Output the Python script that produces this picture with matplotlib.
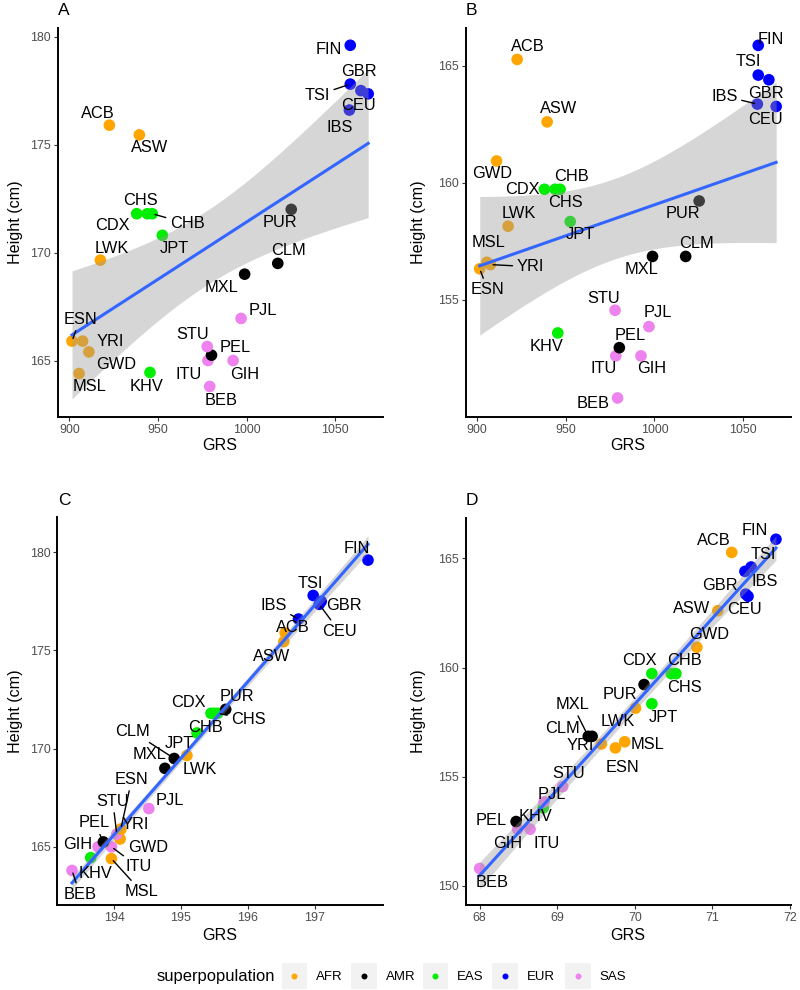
import numpy as np
import matplotlib
matplotlib.use("Agg")
from matplotlib import pyplot as plt
from matplotlib.patches import Rectangle
from matplotlib.lines import Line2D

plt.rcParams['font.family'] = ['Liberation Sans', 'DejaVu Sans']

pops = ['ACB', 'ASW', 'BEB', 'CDX', 'CEU', 'CHB', 'CHS', 'CLM', 'ESN', 'FIN', 'GBR', 'GIH', 'GWD',
        'IBS', 'ITU', 'JPT', 'KHV', 'LWK', 'MSL', 'MXL', 'PEL', 'PJL', 'PUR', 'STU', 'TSI', 'YRI']
superpop = ['AFR', 'AFR', 'SAS', 'EAS', 'EUR', 'EAS', 'EAS', 'AMR', 'AFR', 'EUR', 'EUR', 'SAS', 'AFR',
            'EUR', 'SAS', 'EAS', 'EAS', 'AFR', 'AFR', 'AMR', 'AMR', 'SAS', 'AMR', 'SAS', 'EUR', 'AFR']

# GRS shared by panels A and B
grs_ab = [922.6, 939.5, 979.2, 938.0, 1068.6, 946.8, 944.0, 1017.6, 901.5, 1058.5, 1064.5, 992.4, 911.0,
          1058.0, 978.2, 952.5, 945.5, 917.5, 905.5, 998.9, 980.2, 996.9, 1025.2, 977.8, 1058.5, 907.5]
grs_c = [196.56, 196.54, 193.37, 195.45, 197.07, 195.50, 195.55, 194.90, 194.10, 197.80, 197.10, 193.76, 194.09,
         196.76, 193.96, 195.24, 193.65, 195.09, 193.96, 194.76, 193.84, 194.52, 195.67, 194.04, 196.98, 194.10]
grs_d = [71.25, 71.07, 68.00, 70.22, 71.46, 70.47, 70.53, 69.45, 69.75, 71.82, 71.42, 68.49, 70.80,
         71.43, 68.65, 70.22, 68.82, 70.01, 69.87, 69.40, 68.47, 68.83, 70.12, 69.07, 71.50, 69.57]
height_male = [175.90, 175.45, 163.80, 171.80, 177.35, 171.80, 171.80, 169.50, 165.90, 179.60, 177.50, 165.00, 165.40,
               176.60, 165.00, 170.80, 164.45, 169.65, 164.40, 169.00, 165.25, 166.95, 172.00, 165.65, 177.80, 165.90]
height_female = [165.27, 162.60, 150.80, 159.72, 163.26, 159.72, 159.72, 156.85, 156.32, 165.87, 164.40, 152.60, 160.93,
                 163.36, 152.60, 158.34, 153.58, 158.14, 156.60, 156.85, 152.95, 153.85, 159.22, 154.55, 164.60, 156.50]

sp_names = ['AFR', 'AMR', 'EAS', 'EUR', 'SAS']
sp_colors = ['#FFA500', '#000000', '#00EE00', '#0000FF', '#EE82EE']

# label offsets in pixels (dx right, dy down), and whether a segment is drawn
offs_a = {'FIN': (-21, 4, 0), 'GBR': (-2, -19, 0), 'TSI': (-33, 11, 1), 'CEU': (-10, 12, 0), 'IBS': (-10, 17, 0),
          'ACB': (-12, -12, 0), 'ASW': (10, 13, 0), 'CHS': (-7, -13, 0), 'CDX': (-24, 12, 0), 'CHB': (35, 10, 1),
          'JPT': (12, 13, 0), 'PUR': (-11, 13, 0), 'LWK': (11, -12, 0), 'CLM': (11, -13, 0), 'MXL': (-23, 13, 0),
          'PJL': (22, -8, 0), 'ESN': (8, -22, 1), 'YRI': (28, 0, 0), 'GWD': (27, 13, 0), 'MSL': (10, 13, 0),
          'KHV': (-3, 14, 0), 'STU': (-15, -12, 0), 'PEL': (24, -8, 0), 'ITU': (-19, 14, 0), 'GIH': (12, 14, 0),
          'BEB': (11, 14, 0)}
offs_b = {'ACB': (11, -13, 0), 'ASW': (11, -13, 0), 'GWD': (-4, 13, 0), 'CDX': (-22, 0, 0), 'CHB': (11, -13, 0),
          'CHS': (10, 13, 0), 'JPT': (10, 13, 0), 'LWK': (11, -13, 0), 'PUR': (-16, 13, 0), 'FIN': (13, -6, 0),
          'TSI': (-10, -14, 0), 'GBR': (-3, 14, 0), 'IBS': (-33, -8, 1), 'CEU': (-11, 13, 0), 'MSL': (2, -20, 0),
          'YRI': (40, 2, 1), 'ESN': (8, 21, 1), 'CLM': (11, -13, 0), 'MXL': (-11, 13, 0), 'STU': (-11, -12, 0),
          'PJL': (9, -14, 0), 'KHV': (-11, 14, 0), 'PEL': (11, -12, 0), 'ITU': (-12, 13, 0), 'GIH': (11, 13, 0),
          'BEB': (-24, 6, 0)}
offs_c = {'FIN': (-11, -12, 0), 'TSI': (-3, -12, 0), 'GBR': (23, 4, 0), 'CEU': (20, 27, 1), 'IBS': (-25, -14, 1),
          'ACB': (8, -5, 0), 'ASW': (-12, 15, 0), 'PUR': (11, -13, 0), 'CDX': (-23, -11, 0), 'CHS': (31, 6, 1),
          'CHB': (-9, 14, 0), 'JPT': (-18, 11, 0), 'LWK': (13, 14, 0), 'CLM': (-42, -27, 1), 'MXL': (-15, -14, 0),
          'PJL': (21, -8, 0), 'ESN': (11, -50, 1), 'STU': (-4, -33, 1), 'YRI': (14, -5, 0), 'PEL': (-9, -19, 1),
          'GWD': (28, 8, 0), 'GIH': (-20, -2, 0), 'ITU': (27, 20, 1), 'MSL': (30, 33, 1), 'KHV': (5, 16, 0),
          'BEB': (8, 24, 1)}
offs_d = {'FIN': (-21, -9, 0), 'ACB': (-18, -12, 0), 'TSI': (12, -13, 0), 'IBS': (19, -13, 0), 'GBR': (-25, 14, 0),
          'CEU': (-4, 13, 0), 'ASW': (-26, -2, 0), 'GWD': (12, -13, 0), 'CDX': (-12, -13, 0), 'CHB': (13, -13, 0),
          'CHS': (9, 14, 0), 'PUR': (-24, 10, 0), 'JPT': (11, 14, 0), 'LWK': (-18, 13, 0), 'MXL': (-16, -32, 1),
          'CLM': (-30, -8, 0), 'YRI': (-21, 2, 0), 'MSL': (23, 3, 0), 'ESN': (7, 20, 0), 'STU': (6, -13, 0),
          'PJL': (8, -7, 0), 'KHV': (-8, 9, 0), 'PEL': (-25, -1, 0), 'GIH': (-10, 14, 0), 'ITU': (17, 14, 0),
          'BEB': (12, 14, 0)}

W, H = 800, 990
fig = plt.figure(figsize=(W / 100, H / 100), dpi=100)


def add_panel(left, top, right, bottom):
    return fig.add_axes([left / W, 1 - bottom / H, (right - left) / W, (bottom - top) / H])


def draw_panel(ax, x, y, offs, xlim, ylim, xticks, yticks):
    x = np.array(x)
    y = np.array(y)
    cols = [sp_colors[sp_names.index(s)] for s in superpop]
    ax.scatter(x, y, s=70, c=cols, linewidths=0, zorder=2)

    # linear fit with 95% confidence band, like geom_smooth(method = "lm")
    slope, icpt = np.polyfit(x, y, 1)
    n = len(x)
    resid = y - (slope * x + icpt)
    s = np.sqrt(np.sum(resid ** 2) / (n - 2))
    xs = np.linspace(x.min(), x.max(), 100)
    fit = slope * xs + icpt
    se = s * np.sqrt(1 / n + (xs - x.mean()) ** 2 / np.sum((x - x.mean()) ** 2))
    t = 2.064
    ax.fill_between(xs, fit - t * se, fit + t * se, color='#999999', alpha=0.4, lw=0, zorder=3)
    ax.plot(xs, fit, color='#3366FF', lw=2.2, zorder=4)

    for i, name in enumerate(pops):
        dx, dy, seg = offs[name]
        kw = {}
        if seg:
            kw['arrowprops'] = dict(arrowstyle='-', color='black', lw=1.0, shrinkA=1, shrinkB=2)
        ax.annotate(name, xy=(x[i], y[i]), xytext=(dx, -dy), textcoords='offset pixels',
                    ha='center', va='center', fontsize=11.8, color='black', zorder=5, **kw)

    ax.set_xlim(xlim)
    ax.set_ylim(ylim)
    ax.set_xticks(xticks)
    ax.set_yticks(yticks)
    for sp in ['top', 'right']:
        ax.spines[sp].set_visible(False)
    for sp in ['left', 'bottom']:
        ax.spines[sp].set_linewidth(1.4)
        ax.spines[sp].set_color('black')
    ax.tick_params(length=3, width=0.8, colors='#333333', labelcolor='#4D4D4D', labelsize=8.9, pad=2)


axA = add_panel(58, 28, 382.7, 416.7)
axB = add_panel(465.7, 28.3, 790.7, 416.7)
axC = add_panel(57.3, 517.3, 382.7, 905)
axD = add_panel(465.7, 518.3, 790.7, 905)

draw_panel(axA, grs_ab, height_male, offs_a, (893.6, 1076.8), (162.4, 180.4), [900, 950, 1000, 1050], [165, 170, 175, 180])
draw_panel(axB, grs_ab, height_female, offs_b, (893.6, 1076.8), (150.0, 166.6), [900, 950, 1000, 1050], [155, 160, 165])
draw_panel(axC, grs_c, height_male, offs_c, (193.15, 198.02), (162.04, 181.78), [194, 195, 196, 197], [165, 170, 175, 180])
draw_panel(axD, grs_d, height_female, offs_d, (67.82, 72.01), (149.13, 166.83), [68, 69, 70, 71, 72], [150, 155, 160, 165])

# panel letters, axis titles
for letter, px, py in [('A', 58, 15), ('B', 466, 15), ('C', 58, 505), ('D', 466, 505)]:
    fig.text(px / W, 1 - py / H, letter, fontsize=12.5, va='baseline', ha='left')
for cx, cy in [(220, 446), (628, 446), (220, 936), (628, 936)]:
    fig.text(cx / W, 1 - cy / H, 'GRS', fontsize=11.6, ha='center', va='center')
for cx, cy in [(16, 222), (418, 222), (16, 711), (418, 711)]:
    fig.text(cx / W, 1 - cy / H, 'Height (cm)', fontsize=11.6, ha='center', va='center', rotation=90)

# legend at the bottom
fig.text(156.7 / W, 1 - 976.7 / H, 'superpopulation', fontsize=11.9, ha='left', va='center')
key_left = [281.7, 351.0, 422.7, 492.0, 565.0]
for i, name in enumerate(sp_names):
    kx = key_left[i]
    fig.add_artist(Rectangle((kx / W, 1 - 988.5 / H), 25.5 / W, 25.5 / H, transform=fig.transFigure,
                             facecolor='#F2F2F2', edgecolor='none'))
    fig.add_artist(Line2D([(kx + 12.75) / W], [1 - 976 / H], marker='o', markersize=4.3, color=sp_colors[i],
                          markeredgewidth=0, linestyle='none', transform=fig.transFigure))
    fig.text((kx + 34.5) / W, 1 - 976.7 / H, name, fontsize=9.5, ha='left', va='center')

fig.savefig('out.png', dpi=100)
